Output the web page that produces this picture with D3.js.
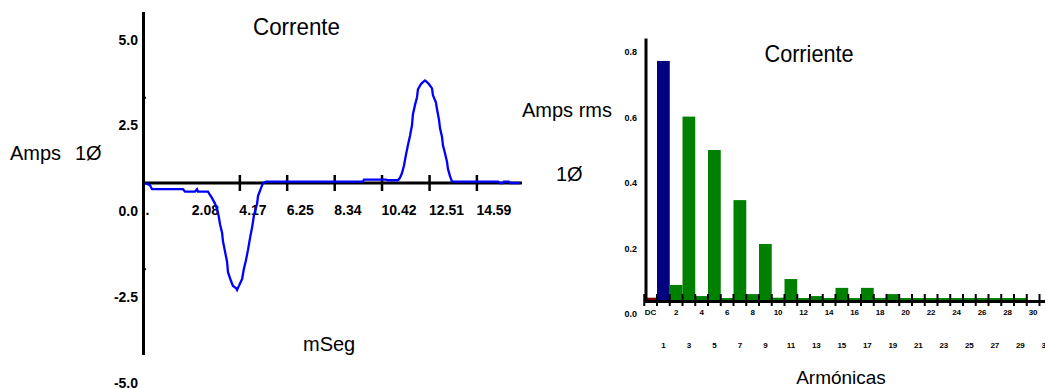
<!DOCTYPE html>
<html>
<head>
<meta charset="utf-8">
<script src="https://cdn.jsdelivr.net/npm/d3@7"></script>
<style>
  body { margin: 0; background: #fff; }
  svg text { font-family: "Liberation Sans", Arial, sans-serif; fill: #000; }
</style>
</head>
<body>
<div id="chart"></div>
<script>
// --- forma de onda de corriente (ms, A) ---
var timeMs = [0.02, 0.11, 0.24, 0.33, 1.69, 1.78, 2.22, 2.31, 2.35, 2.79, 2.88, 2.97, 3.10, 3.19, 3.27, 3.32,
  3.41, 3.45, 3.54, 3.63, 3.67, 3.80, 3.89, 4.02, 4.07, 4.15, 4.29, 4.37, 4.46, 4.55, 4.64, 4.73, 4.81,
  4.95, 4.99, 5.12, 5.21, 5.34, 9.60, 9.65, 10.62, 10.70, 11.14, 11.23, 11.32, 11.41, 11.49, 11.58, 11.67,
  11.76, 11.80, 11.89, 11.98, 12.02, 12.15, 12.24, 12.33, 12.42, 12.51, 12.64, 12.68, 12.81, 12.86, 12.95,
  12.99, 13.08, 13.12, 13.21, 13.30, 13.34, 13.43, 13.52, 15.54, 15.63, 15.76, 15.80, 16.02, 16.07, 16.51];
var currentA = [0.0, -0.03, -0.06, -0.18, -0.18, -0.25, -0.25, -0.18, -0.25, -0.25, -0.35, -0.44, -0.6, -0.75, -1.0, -1.2,
  -1.45, -1.7, -2.0, -2.3, -2.6, -2.85, -3.0, -3.06, -3.12, -3.0, -2.8, -2.5, -2.25, -1.95, -1.6, -1.3, -0.95,
  -0.6, -0.38, -0.15, 0.0, 0.04, 0.04, 0.1, 0.1, 0.08, 0.08, 0.15, 0.29, 0.52, 0.81, 1.1, 1.37,
  1.69, 2.0, 2.27, 2.5, 2.73, 2.88, 2.94, 2.99, 2.94, 2.88, 2.76, 2.56, 2.35, 2.15, 1.83,
  1.6, 1.34, 1.1, 0.87, 0.61, 0.41, 0.2, 0.04, 0.04, 0.0, 0.0, 0.04, 0.04, 0.0, 0.0];

var xTickValues = [0, 2.08, 4.17, 6.25, 8.34, 10.42, 12.51, 14.59];
var xTickLabels = [".", "2.08", "4.17", "6.25", "8.34", "10.42", "12.51", "14.59"];
var xTickMarks = [4.17, 6.25, 8.34, 10.42, 12.51, 14.59];
var yTickValues = [5, 2.5, 0, -2.5, -5];
var yTickLabels = ["5.0", "2.5", "0.0", "-2.5", "-5.0"];

// --- espectro de armonicos (A rms) ---
var harmonics = ["DC", "1", "2", "3", "4", "5", "6", "7", "8", "9", "10", "11", "12", "13", "14", "15",
  "16", "17", "18", "19", "20", "21", "22", "23", "24", "25", "26", "27", "28", "29", "30", "31"];
var harmonicAmps = [0.007, 0.73, 0.046, 0.56, 0.012, 0.458, 0.006, 0.305, 0.018, 0.171, 0.007, 0.064, 0.006, 0.012, 0.006, 0.037,
  0.006, 0.037, 0.006, 0.018, 0.006, 0.006, 0.006, 0.006, 0.006, 0.006, 0.006, 0.006, 0.006, 0.006, 0, 0];
var barTickValues = [0.8, 0.6, 0.4, 0.2, 0];
var barTickLabels = ["0.8", "0.6", "0.4", "0.2", "0.0"];

var svg = d3.select("#chart").append("svg")
  .attr("width", 1045)
  .attr("height", 388);

// ================= grafico izquierdo =================
var x = d3.scaleLinear().domain([0, 16.67]).range([144.5, 523.7]);
var y = d3.scaleLinear().domain([-5, 5]).range([354.5, 11.5]);

// eje Y
var yAxis = svg.append("g")
  .attr("transform", "translate(143,0)")
  .call(d3.axisRight(y).tickValues([2.5, -2.5]).tickSize(3).tickSizeOuter(0).tickFormat(""));
yAxis.select(".domain").attr("stroke", "#000").attr("stroke-width", 3);
yAxis.selectAll(".tick line").attr("stroke", "#000").attr("stroke-width", 2);

svg.selectAll(".ylab")
  .data(yTickValues)
  .enter().append("text")
  .attr("class", "ylab")
  .attr("x", 138)
  .attr("y", function(d) { return y(d) + 33; })
  .attr("text-anchor", "end")
  .style("font-size", "14px")
  .style("font-weight", "bold")
  .text(function(d, i) { return yTickLabels[i]; });

// eje X en cero
var xAxis = svg.append("g")
  .attr("transform", "translate(0," + y(0) + ")")
  .call(d3.axisBottom(x).tickValues(xTickMarks).tickSizeOuter(0).tickFormat(""));
xAxis.select(".domain").attr("stroke", "#000").attr("stroke-width", 3)
  .attr("d", "M142,0H522");
xAxis.selectAll(".tick line").attr("stroke", "#000").attr("stroke-width", 2.5)
  .attr("y1", -8).attr("y2", 8);

svg.selectAll(".xlab")
  .data(xTickValues)
  .enter().append("text")
  .attr("class", "xlab")
  .attr("x", function(d) { return x(d) + (d === 0 ? 1 : 0); })
  .attr("y", 215)
  .style("font-size", "14px")
  .style("font-weight", "bold")
  .text(function(d, i) { return xTickLabels[i]; });

// curva
svg.append("path")
  .datum(timeMs)
  .attr("fill", "none")
  .attr("stroke", "#0000ff")
  .attr("stroke-width", 2.3)
  .attr("d", d3.line()
    .x(function(d) { return x(d); })
    .y(function(d, i) { return y(currentA[i]); })
  );

svg.append("text").attr("x", 296.5).attr("y", 35).attr("text-anchor", "middle")
  .attr("textLength", 87).attr("lengthAdjust", "spacingAndGlyphs")
  .style("font-size", "23px").text("Corrente");
svg.append("text").attr("x", 10).attr("y", 160).style("font-size", "20px").text("Amps");
svg.append("text").attr("x", 75).attr("y", 160).style("font-size", "20px").text("1Ø");
svg.append("text").attr("x", 303).attr("y", 351).style("font-size", "20px").text("mSeg");

// ================= grafico derecho =================
var xb = d3.scaleBand().domain(harmonics).range([644.25, 1052.25]).padding(0);
var yb = d3.scaleLinear().domain([0, 0.8]).range([300, 38]);

function barColor(h) {
  if (h === "DC") return "#800000";
  if (h === "1") return "#000080";
  return "#008000";
}

svg.selectAll(".bar")
  .data(harmonics)
  .enter().append("rect")
  .attr("class", "bar")
  .attr("x", function(d) { return xb(d); })
  .attr("width", xb.bandwidth())
  .attr("y", function(d, i) { return yb(harmonicAmps[i]); })
  .attr("height", function(d, i) { return yb(0) - yb(harmonicAmps[i]); })
  .attr("fill", barColor);

var ybAxis = svg.append("g")
  .attr("transform", "translate(645.5,0)")
  .call(d3.axisLeft(yb).tickValues(barTickValues).tickSize(0).tickSizeOuter(0).tickFormat(""));
ybAxis.select(".domain").attr("stroke", "#000").attr("stroke-width", 3);

svg.selectAll(".yblab")
  .data(barTickValues)
  .enter().append("text")
  .attr("class", "yblab")
  .attr("x", 637)
  .attr("y", function(d) { return yb(d) + 17; })
  .attr("text-anchor", "end")
  .style("font-size", "9px")
  .style("font-weight", "bold")
  .text(function(d, i) { return barTickLabels[i]; });

var xbAxis = svg.append("g")
  .attr("transform", "translate(0,301)")
  .call(d3.axisBottom(xb).tickSizeOuter(0).tickFormat(""));
xbAxis.select(".domain").attr("stroke", "#000").attr("stroke-width", 3);
xbAxis.selectAll(".tick line")
  .attr("stroke", "#000").attr("stroke-width", 2)
  .attr("transform", "translate(" + (-xb.bandwidth() / 2) + ",0)")
  .attr("y1", -7).attr("y2", 5);

svg.selectAll(".xblab")
  .data(harmonics)
  .enter().append("text")
  .attr("class", "xblab")
  .attr("x", function(d) { return xb(d) + xb.bandwidth() / 2; })
  .attr("y", function(d, i) { return i % 2 === 0 ? 315 : 348; })
  .attr("text-anchor", "middle")
  .style("font-size", "8px")
  .style("font-weight", "bold")
  .text(function(d) { return d; });

svg.append("text").attr("x", 809).attr("y", 62).attr("text-anchor", "middle")
  .attr("textLength", 89).attr("lengthAdjust", "spacingAndGlyphs")
  .style("font-size", "24px").text("Corriente");
svg.append("text").attr("x", 522).attr("y", 117).style("font-size", "20px").text("Amps rms");
svg.append("text").attr("x", 556).attr("y", 181).style("font-size", "20px").text("1Ø");
svg.append("text").attr("x", 841).attr("y", 384).attr("text-anchor", "middle")
  .style("font-size", "19px").text("Armónicas");
</script>
</body>
</html>
